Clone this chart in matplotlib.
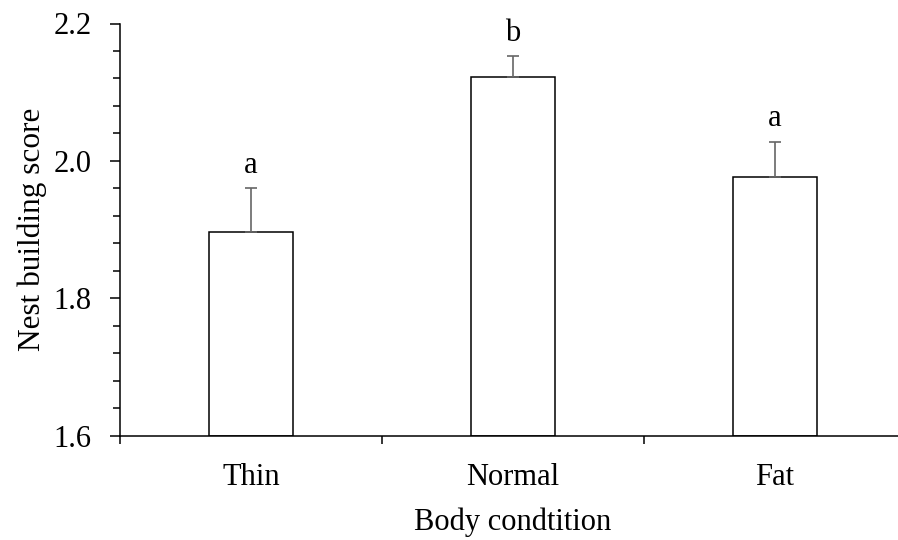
import matplotlib
matplotlib.use("Agg")
import matplotlib.pyplot as plt
from matplotlib.ticker import MultipleLocator, FixedLocator, FormatStrFormatter

plt.rcParams['font.family'] = ['Liberation Serif', 'DejaVu Serif']

categories = ["Thin", "Normal", "Fat"]
means = [1.896, 2.122, 1.976]
errors = [0.064, 0.030, 0.052]
letters = ["a", "b", "a"]

fig = plt.figure(figsize=(8.98, 5.40), dpi=100)
ax = fig.add_axes([120 / 898, 1 - 435.7 / 540, 786 / 898, (435.7 - 23.5) / 540])

x = list(range(len(categories)))
ax.bar(x, [m - 1.6 for m in means], bottom=1.6, width=0.317,
       color="white", edgecolor="black", linewidth=1.1, zorder=2)
ax.errorbar(x, means, yerr=[[0] * len(errors), errors], fmt="none",
            ecolor="#666666", elinewidth=1.2, capsize=4, capthick=1.2, zorder=3)

# significance letters above each error bar
for xi, m, e, lab in zip(x, means, errors, letters):
    ax.annotate(lab, (xi, m + e), xytext=(0, 11), textcoords="offset points",
                ha="center", va="baseline", fontsize=22)

ax.set_xlim(-0.5, 2.5)
ax.set_ylim(1.6, 2.2)

for side in ("top", "right"):
    ax.spines[side].set_visible(False)
for side in ("left", "bottom"):
    ax.spines[side].set_linewidth(1.1)

ax.yaxis.set_major_locator(MultipleLocator(0.2))
ax.yaxis.set_minor_locator(MultipleLocator(0.04))
ax.yaxis.set_major_formatter(FormatStrFormatter("%.1f"))
ax.tick_params(axis="y", which="major", direction="out", length=7.5, width=1.1,
               pad=13, labelsize=22)
ax.tick_params(axis="y", which="minor", direction="out", length=5, width=1.1)

ax.set_xticks(x)
ax.set_xticklabels(categories)
ax.xaxis.set_minor_locator(FixedLocator([-0.5, 0.5, 1.5, 2.5]))
ax.tick_params(axis="x", which="major", length=0, pad=20, labelsize=22)
ax.tick_params(axis="x", which="minor", direction="out", length=6, width=1.1)

ax.set_xlabel("Body condtition", fontsize=22, labelpad=11)
ax.set_ylabel("Nest building score", fontsize=22.5, labelpad=4.5)

fig.savefig("out.png", dpi=100)
